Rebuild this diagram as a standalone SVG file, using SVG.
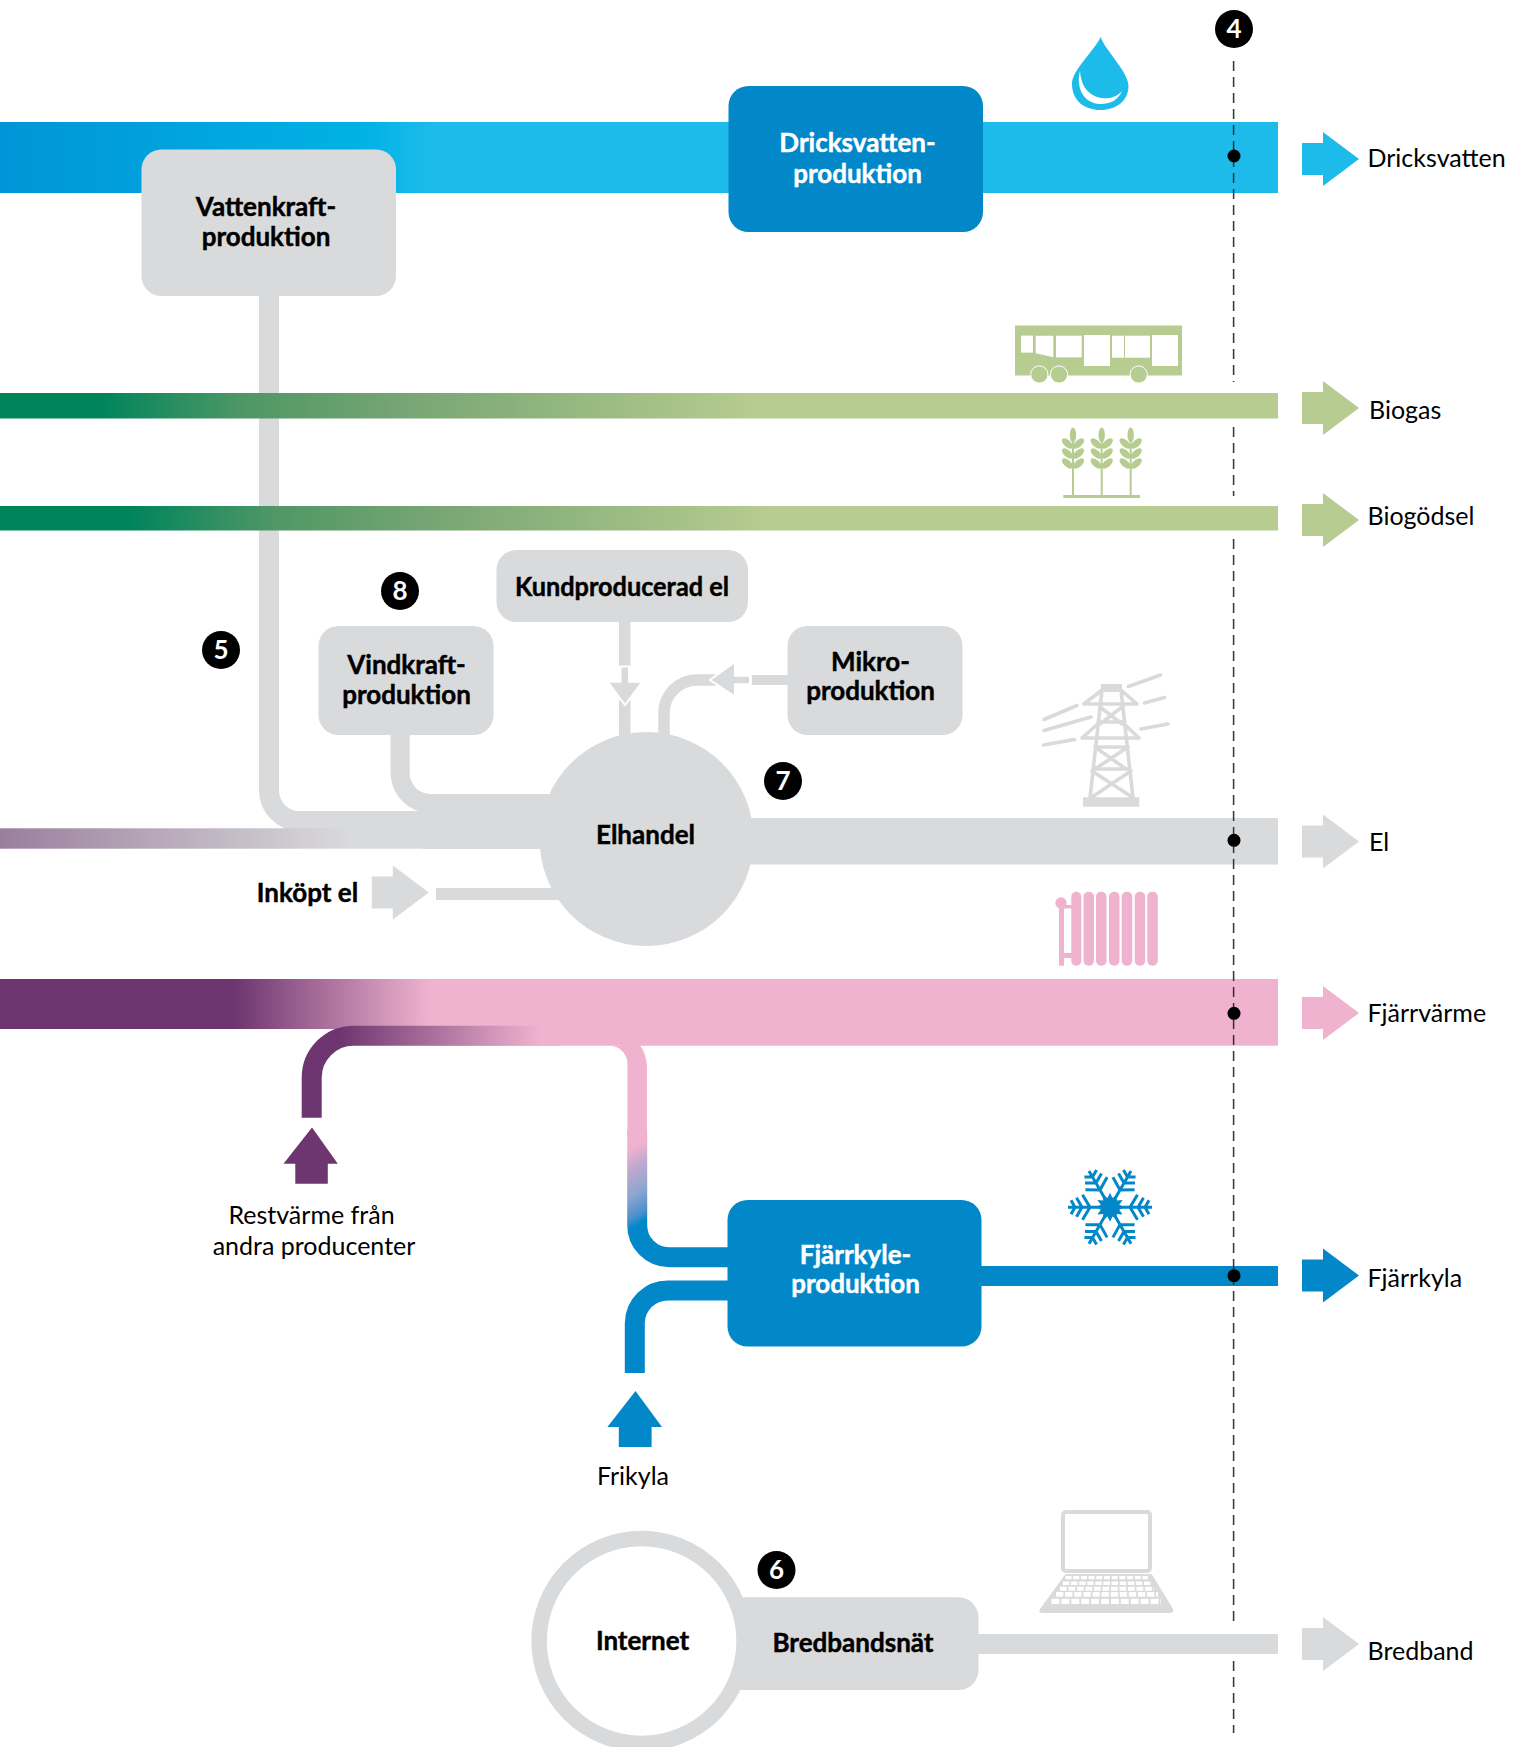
<svg xmlns="http://www.w3.org/2000/svg" width="1525" height="1747" viewBox="0 0 1525 1747">
<style>
text{font-family:"Lato","Liberation Sans",sans-serif;fill:#000;font-size:25px}
.b{font-weight:700;font-size:26px;text-anchor:middle;stroke:#000;stroke-width:.45}
.w{fill:#fff;stroke:#fff}
.m{text-anchor:middle}
.n{font-weight:700;font-size:26px;text-anchor:middle;fill:#fff}
.g{fill:#d9dadc}.lb{fill:#1cbbea}.bl{fill:#0287c9}.gr{fill:#b7cc90}.pk{fill:#efb3cf}.pu{fill:#6e3670}
.pipe{fill:none;stroke-width:20}
</style>
<defs>
<linearGradient id="gWater" gradientUnits="userSpaceOnUse" x1="0" y1="0" x2="430" y2="0"><stop offset="0" stop-color="#0095d6"/><stop offset=".85" stop-color="#00b2e6"/><stop offset="1" stop-color="#1cbbea"/></linearGradient>
<linearGradient id="gGas" gradientUnits="userSpaceOnUse" x1="100" y1="0" x2="760" y2="0"><stop offset="0" stop-color="#00845c"/><stop offset=".215" stop-color="#4e9765"/><stop offset=".47" stop-color="#78a674"/><stop offset="1" stop-color="#b7cc90"/></linearGradient>
<linearGradient id="gGod" gradientUnits="userSpaceOnUse" x1="130" y1="0" x2="770" y2="0"><stop offset="0" stop-color="#00845c"/><stop offset=".22" stop-color="#4e9765"/><stop offset=".48" stop-color="#78a674"/><stop offset="1" stop-color="#b7cc90"/></linearGradient>
<linearGradient id="gEl" gradientUnits="userSpaceOnUse" x1="0" y1="0" x2="350" y2="0"><stop offset="0" stop-color="#9a7f9d"/><stop offset="1" stop-color="#d9dadc"/></linearGradient>
<linearGradient id="gHeat" gradientUnits="userSpaceOnUse" x1="235" y1="0" x2="430" y2="0"><stop offset="0" stop-color="#6e3670"/><stop offset="1" stop-color="#efb3cf"/></linearGradient>
<linearGradient id="gRest" gradientUnits="userSpaceOnUse" x1="340" y1="0" x2="540" y2="0"><stop offset="0" stop-color="#6e3670"/><stop offset="1" stop-color="#efb3cf"/></linearGradient>
<linearGradient id="gCool" gradientUnits="userSpaceOnUse" x1="637" y1="1145" x2="672" y2="1205"><stop offset="0" stop-color="#efb3cf"/><stop offset=".26" stop-color="#c0a8cf"/><stop offset=".6" stop-color="#8ca5d0"/><stop offset=".86" stop-color="#4f91cc"/><stop offset="1" stop-color="#0287c9"/></linearGradient>
<polygon id="arrowR" points="0,-16 21,-16 21,-27 57,0 21,27 21,16 0,16"/>
<g id="wheat">
<ellipse cx="0" cy="-31" rx="3.2" ry="7.5"/>
<g id="leaves"><ellipse cx="-5.6" cy="-22.5" rx="6.8" ry="3.5" transform="rotate(42 -5.6 -22.5)"/><ellipse cx="5.6" cy="-22.5" rx="6.8" ry="3.5" transform="rotate(-42 5.6 -22.5)"/></g>
<use href="#leaves" y="10"/><use href="#leaves" y="20"/>
<rect x="-1" y="-24" width="2" height="53"/>
</g>
<g id="arm" stroke="#0287c9" stroke-width="3" fill="none">
<path d="M0,0H42M20,0L27.5,12.5M20,0L27.5,-12.5M28,0L33.5,9.5M28,0L33.5,-9.5M35,0L39,7M35,0L39,-7"/>
</g>
</defs>

<g id="connectors">
<rect id="band-water" y="122" width="1278" height="71" fill="url(#gWater)"/>
<rect class="g" x="259" y="290" width="20" height="500"/>
<rect id="band-biogas" y="393" width="1278" height="25.5" fill="url(#gGas)"/>
<rect id="band-biogodsel" y="506" width="1278" height="24.5" fill="url(#gGod)"/>
<path class="pipe" stroke="#d9dadc" d="M269,790 A30,31 0 0 0 299,821 H560"/>
<path fill="#d9dadc" d="M390.6,730 H409.7 V773 A21,21 0 0 0 433,794 H560 V849 H422 V812 A40,40 0 0 1 390.6,773Z"/>
<rect id="band-el-in" y="828.3" width="560" height="20.4" fill="url(#gEl)"/>
<rect class="g" x="700" y="818" width="578" height="46.5"/>
<rect class="g" x="436" y="888" width="130" height="12"/>
<rect class="g" x="619" y="618" width="11.5" height="48"/>
<rect class="g" x="619" y="700" width="11.5" height="40"/>
<polygon class="g" stroke="#fff" stroke-width="2" points="620.5,666.5 629,666.5 629,681.7 642.5,681.7 625,705 607.5,681.7 620.5,681.7"/>
<path fill="none" stroke="#d9dadc" stroke-width="11.5" d="M664,740 V713 A33,33 0 0 1 697,680 H716"/>
<rect class="g" x="752" y="675" width="40" height="10"/>
<polygon class="g" stroke="#fff" stroke-width="2" points="750,675.7 735,675.7 735,662 710,680 735,696.5 735,684.3 750,684.3"/>
<rect id="band-heat" y="979" width="1278" height="50" fill="url(#gHeat)"/>
<rect class="pk" x="430" y="979" width="848" height="66.7"/>
<path class="pipe" stroke="url(#gRest)" d="M311.7,1117.7 V1078 A42,42 0 0 1 353.7,1035.7 H560"/>
<path class="pk" d="M530,1026 H620 V1045.7 H610 A18,18 0 0 1 627.4,1065 V1135 H647 V1067 A40,40 0 0 0 640,1045 V1026Z"/>
<path class="pipe" stroke="url(#gCool)" d="M637.2,1130 V1225 A32,32 0 0 0 669.2,1257.3 H735"/>
<path class="pipe" stroke="#0287c9" d="M634.8,1373 V1323 A33,33 0 0 1 667.8,1290.5 H735"/>
<rect class="bl" x="975" y="1266" width="303" height="20"/>
<rect class="g" x="970" y="1634" width="308" height="20"/>
<path fill="none" stroke="#333" stroke-width="1.5" stroke-dasharray="10 6" d="M1233.6,61 V382 M1233.6,427 V496 M1233.6,539 V1623 M1233.6,1661 V1733"/>
</g>

<g id="arrows">
<use href="#arrowR" class="lb" x="1302" y="159"/>
<use href="#arrowR" class="gr" x="1302" y="408"/>
<use href="#arrowR" class="gr" x="1302" y="520"/>
<use href="#arrowR" class="g" x="1302" y="841.5"/>
<use href="#arrowR" class="pk" x="1302" y="1013"/>
<use href="#arrowR" class="bl" x="1302" y="1275.5"/>
<use href="#arrowR" class="g" x="1302" y="1644"/>
<use href="#arrowR" class="g" x="371.8" y="892.6"/>
<polygon class="pu" points="312,1127.6 337.8,1163.7 327.8,1163.7 327.8,1183.8 295.3,1183.8 295.3,1163.7 283.5,1163.7"/>
<polygon class="bl" points="635.5,1391 662,1427 651.6,1427 651.6,1447 618.8,1447 618.8,1427 607.4,1427"/>
</g>

<g id="node-vattenkraft"><rect class="g" x="141.5" y="149.5" width="254.5" height="146.5" rx="20"/><text class="b" x="266" y="216">Vattenkraft-</text><text class="b" x="266" y="246">produktion</text></g>
<g id="node-dricksvatten"><rect class="bl" x="728.5" y="86" width="254.5" height="146" rx="20"/><text class="b w" x="857.5" y="152">Dricksvatten-</text><text class="b w" x="857.5" y="183">produktion</text></g>
<g id="node-kundproducerad"><rect class="g" x="496.5" y="550" width="251.5" height="72" rx="20"/><text class="b" x="622" y="596" textLength="214" lengthAdjust="spacingAndGlyphs">Kundproducerad el</text></g>
<g id="node-vindkraft"><rect class="g" x="318.5" y="626" width="175" height="109" rx="20"/><text class="b" x="406.5" y="674">Vindkraft-</text><text class="b" x="406.5" y="704">produktion</text></g>
<g id="node-mikro"><rect class="g" x="787.5" y="626" width="175" height="109" rx="20"/><text class="b" x="870.5" y="671">Mikro-</text><text class="b" x="870.5" y="700">produktion</text></g>
<g id="node-elhandel"><circle class="g" cx="646.5" cy="839" r="107"/><text class="b" x="645.5" y="844">Elhandel</text></g>
<g id="node-fjarrkyle"><rect class="bl" x="727.5" y="1200" width="254" height="146.5" rx="20"/><text class="b w" x="855.5" y="1264">Fjärrkyle-</text><text class="b w" x="855.5" y="1293">produktion</text></g>
<g id="node-bredband"><rect class="g" x="690" y="1597.3" width="288.5" height="92.7" rx="20"/><text class="b" x="853" y="1652">Bredbandsnät</text></g>
<g id="node-internet"><circle fill="#fff" stroke="#d9dadc" stroke-width="15.5" cx="641.6" cy="1641" r="102.5"/><text class="b" x="642.5" y="1650">Internet</text></g>

<g id="markers">
<circle cx="1234" cy="29" r="19"/><text class="n" x="1234" y="38">4</text>
<circle cx="221" cy="650" r="19"/><text class="n" x="221" y="659">5</text>
<circle cx="776.5" cy="1570" r="19"/><text class="n" x="776.5" y="1579">6</text>
<circle cx="783" cy="781" r="19"/><text class="n" x="783" y="790">7</text>
<circle cx="400" cy="591" r="19"/><text class="n" x="400" y="600">8</text>
<circle cx="1234" cy="156" r="6.5"/><circle cx="1234" cy="840.3" r="6.5"/><circle cx="1234" cy="1013.3" r="6.5"/><circle cx="1234" cy="1275.7" r="6.5"/>
</g>

<g id="labels">
<text x="1367.5" y="167">Dricksvatten</text>
<text x="1369" y="419">Biogas</text>
<text x="1367.5" y="525">Biogödsel</text>
<text x="1369" y="851">El</text>
<text x="1367.5" y="1022">Fjärrvärme</text>
<text x="1367.5" y="1287">Fjärrkyla</text>
<text x="1367.5" y="1660">Bredband</text>
<text class="b" x="307.5" y="902">Inköpt el</text>
<text class="m" x="311.5" y="1224">Restvärme från</text>
<text class="m" x="314" y="1255">andra producenter</text>
<text class="m" x="633" y="1485">Frikyla</text>
</g>

<g id="icon-drop">
<path class="lb" d="M1100.6,37 C1105,50 1128.5,72 1128.5,86 C1128.5,101 1116,110 1100.5,110 C1085,110 1072,101 1072,84 C1072,70 1095,50 1100.6,37Z"/>
<path fill="#fff" d="M1080,71 C1076,86 1082,103 1100,104 C1111,104 1118,100 1122,91 C1116,98 1106,100 1097,97 C1086,93 1081,84 1080,71Z"/>
</g>
<g id="icon-bus">
<path class="gr" d="M1015,325.6 H1182 V375.5 H1015Z"/>
<g fill="#fff">
<rect x="1021" y="335.6" width="12" height="17"/>
<path d="M1035.7,335.7 H1053.3 V357.2 L1035.7,353.3Z"/>
<rect x="1056" y="335.7" width="25.7" height="21.7"/>
<rect x="1084" y="335" width="26" height="31"/>
<rect x="1112" y="335.7" width="12" height="22"/>
<rect x="1125" y="335.7" width="25" height="22"/>
<rect x="1152" y="335" width="26" height="31"/>
</g>
<g class="gr" stroke="#fff" stroke-width="1"><circle cx="1039.3" cy="374.5" r="8.6"/><circle cx="1059" cy="374.5" r="8.6"/><circle cx="1138.7" cy="374.5" r="8.6"/></g>
</g>
<g id="icon-wheat" class="gr">
<use href="#wheat" x="1073" y="466"/><use href="#wheat" x="1101.7" y="466"/><use href="#wheat" x="1130.7" y="466"/>
<rect x="1063.3" y="495" width="76.7" height="3"/>
</g>
<g id="icon-tower" fill="none" stroke="#d9dadc" stroke-width="3.6" stroke-linecap="round">
<rect class="g" stroke="none" x="1083" y="797.3" width="56.3" height="9.4"/>
<rect class="g" stroke="none" x="1101" y="684" width="21" height="8"/>
<path d="M1102,690 L1090,798 M1121,690 L1133,798 M1084,704 H1137 M1084,704 L1102,690 M1137,704 L1121,690 M1082,738 H1139 M1082,738 L1100,722 M1139,738 L1122,722 M1098,722 H1124 M1100,707 L1122,724 M1122,707 L1100,724 M1095,747 H1128 M1095,747 L1126,769 M1128,747 L1095,769 M1093,769 H1130 M1092,771 L1132,797 M1131,771 L1092,797"/>
<path d="M1044,719.5 L1077,705.5 M1044,730.5 L1091,717 M1043.5,745 L1074.5,739.5 M1128.5,686.5 L1160.5,675 M1144.5,703 L1164.5,697.5 M1141,729 L1168,724"/>
</g>
<g id="icon-radiator" class="pk">
<rect x="1071.3" y="891.7" width="10" height="74" rx="5"/><rect x="1083.5" y="891.7" width="10.5" height="74" rx="5"/><rect x="1096" y="891.7" width="10.5" height="74" rx="5"/><rect x="1109" y="891.7" width="10.5" height="74" rx="5"/><rect x="1121.7" y="891.7" width="10.5" height="74" rx="5"/><rect x="1134.7" y="891.7" width="10.5" height="74" rx="5"/><rect x="1147.3" y="891.7" width="10.5" height="74" rx="5"/>
<circle cx="1061" cy="903" r="5.7"/>
<rect x="1059" y="905" width="5" height="60.7"/>
<rect x="1060" y="905" width="12" height="3.5"/><rect x="1063" y="953" width="9" height="5"/>
</g>
<g id="icon-snow">
<use href="#arm" transform="translate(1110,1207.3)"/><use href="#arm" transform="translate(1110,1207.3) rotate(60)"/><use href="#arm" transform="translate(1110,1207.3) rotate(120)"/><use href="#arm" transform="translate(1110,1207.3) rotate(180)"/><use href="#arm" transform="translate(1110,1207.3) rotate(240)"/><use href="#arm" transform="translate(1110,1207.3) rotate(300)"/>
<polygon class="bl" transform="translate(1110,1207.3)" points="14.5,0 9.2,2.5 12.6,7.3 6.7,6.7 7.3,12.6 2.5,9.2 0,14.5 -2.5,9.2 -7.3,12.6 -6.7,6.7 -12.6,7.3 -9.2,2.5 -14.5,0 -9.2,-2.5 -12.6,-7.3 -6.7,-6.7 -7.3,-12.6 -2.5,-9.2 0,-14.5 2.5,-9.2 7.3,-12.6 6.7,-6.7 12.6,-7.3 9.2,-2.5"/>
</g>
<g id="icon-laptop">
<rect x="1063" y="1512" width="87" height="59" rx="3" fill="#fff" stroke="#d9dadc" stroke-width="4"/>
<path class="g" d="M1067,1574 H1150 Q1152,1574 1153,1576 L1173,1609 Q1174,1613 1170,1613 H1042 Q1038,1613 1040,1609 L1064,1576 Q1065,1574 1067,1574Z"/>
<g stroke="#fff" fill="none">
<path stroke-width="3.3" stroke-dasharray="6 1.7" d="M1065.5,1577.7 H1148"/>
<path stroke-width="3.6" stroke-dasharray="6.4 1.7" d="M1063,1583.3 H1151"/>
<path stroke-width="4" stroke-dasharray="6.8 1.7" d="M1060,1588.7 H1154"/>
<path stroke-width="4.7" stroke-dasharray="7.4 1.7" d="M1056,1594.3 H1158"/>
<path stroke-width="5.3" stroke-dasharray="8 1.9" d="M1051.5,1601.3 H1161"/>
</g>
</g>
</svg>
